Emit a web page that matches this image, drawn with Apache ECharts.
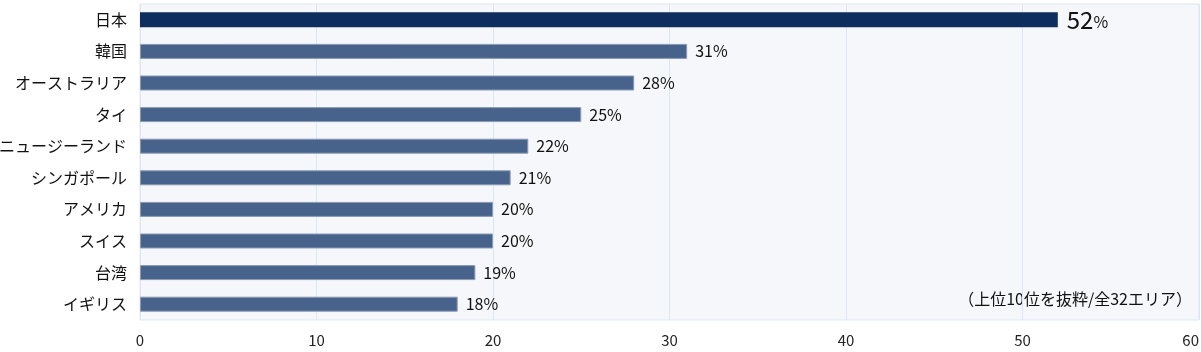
<!DOCTYPE html>
<html>
<head>
<meta charset="utf-8">
<script src="https://cdn.jsdelivr.net/npm/echarts@6/dist/echarts.min.js"></script>
<style>
  html, body { margin: 0; padding: 0; background: #fff; }
  #chart { width: 1201px; height: 352px; }
</style>
</head>
<body>
<div id="chart"></div>
<script>
// 上位10エリア
const areas = ["日本", "韓国", "オーストラリア", "タイ", "ニュージーランド", "シンガポール", "アメリカ", "スイス", "台湾", "イギリス"];
const shares = [52, 31, 28, 25, 22, 21, 20, 20, 19, 18];
const xTicks = [0, 10, 20, 30, 40, 50, 60];
const note = "（上位10位を抜粋/全32エリア）";

const FONT = "'Noto Sans CJK JP', 'Noto Sans', sans-serif";

const chart = echarts.init(document.getElementById("chart"));
chart.setOption({
  animation: false,
  textStyle: { fontFamily: FONT },
  grid: {
    show: true,
    left: 140,
    right: 2,
    top: 4,
    bottom: 32,
    outerBoundsMode: "none",
    backgroundColor: "#f5f7fa",
    borderColor: "#dde7f3",
    borderWidth: 1,
  },
  xAxis: {
    type: "value",
    min: xTicks[0],
    max: xTicks[xTicks.length - 1],
    interval: 10,
    axisLine: { show: false },
    axisTick: { show: false },
    splitLine: { lineStyle: { color: "#dde7f3", width: 1 } },
    axisLabel: { color: "#222", fontSize: 15, margin: 13, fontFamily: FONT, alignMaxLabel: "right" },
  },
  yAxis: {
    type: "category",
    data: areas,
    inverse: true,
    axisLine: { show: false },
    axisTick: { show: false },
    axisLabel: { color: "#111", fontSize: 16, margin: 13, fontFamily: FONT },
  },
  series: [
    {
      type: "bar",
      barWidth: 15,
      data: shares.map((v, i) => ({
        value: v,
        itemStyle: i === 0
          ? { color: "#0e2f5e", borderWidth: 0 }
          : { color: "#48638b", borderColor: "#8a9bb5", borderWidth: 1 },
        label: i === 0
          ? { formatter: "{a|{c}}{b|%}", distance: 9 }
          : { formatter: "{c}%" },
      })),
      label: {
        show: true,
        position: "right",
        distance: 8,
        color: "#111",
        fontSize: 16,
        fontFamily: FONT,
        rich: {
          a: { fontSize: 24, color: "#111", fontFamily: FONT },
          b: { fontSize: 16, color: "#111", fontFamily: FONT, padding: [5, 0, 0, 0] },
        },
      },
    },
  ],
  graphic: [
    {
      type: "text",
      right: 9,
      top: 291,
      style: { text: note, fill: "#111", font: "16px " + FONT },
    },
  ],
});
</script>
</body>
</html>
